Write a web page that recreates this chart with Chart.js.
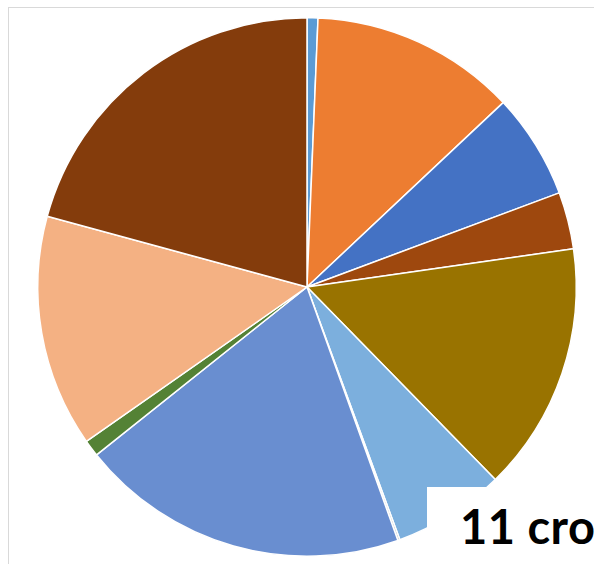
<!DOCTYPE html>
<html>
<head>
<meta charset="utf-8">
<script src="https://cdn.jsdelivr.net/npm/chart.js@4"></script>
<style>
    body { margin: 0; width: 594px; height: 564px; overflow: hidden; background: #fff; position: relative; }
    #frame { position: absolute; left: 8px; top: 7px; width: 700px; height: 700px; border: 1px solid #d9d9d9; }
    #wrap { position: absolute; left: 0; top: 0; width: 594px; height: 564px; }
    #note { position: absolute; left: 427px; top: 487px; width: 300px; height: 200px; background: #fff; }
    #note span { position: absolute; left: 33px; top: 16px; font-family: Lato, sans-serif; font-weight: bold; font-size: 47px; line-height: 46px; letter-spacing: 0.5px; color: #000; white-space: nowrap; }
</style>
</head>
<body>
<div id="frame"></div>
<div id="wrap"><canvas id="pieChart"></canvas></div>
<div id="note"><span>11 cro</span></div>

<script>
// slice values (percent), clockwise from 12 o'clock
const sliceLabels = ["S1", "S2", "S3", "S4", "S5", "S6", "S7", "S8", "S9", "S10", "S11"];
const sliceValues = [0.65, 12.3, 6.3, 3.4, 14.9, 6.7, 0.12, 19.7, 1.0, 13.9, 20.7];
const sliceColors = ["#5B9BD5", "#ED7D31", "#4472C4", "#9E480E", "#997300", "#7CAFDD",
    "#BFBFBF", "#698ED0", "#548235", "#F4B183", "#843C0C"];

const pieChart = new Chart(document.getElementById("pieChart"), {
    type: "pie",
    data: {
        labels: sliceLabels,
        datasets: [{
            data: sliceValues,
            backgroundColor: sliceColors,
            borderColor: "#ffffff",
            borderWidth: 1.5
        }]
    },
    options: {
        responsive: true,
        maintainAspectRatio: false,
        animation: false,
        layout: {
            padding: { left: 37, right: 17, top: 17, bottom: 7 }
        },
        plugins: {
            legend: { display: false },
            tooltip: { enabled: false }
        }
    }
});
</script>
</body>
</html>
